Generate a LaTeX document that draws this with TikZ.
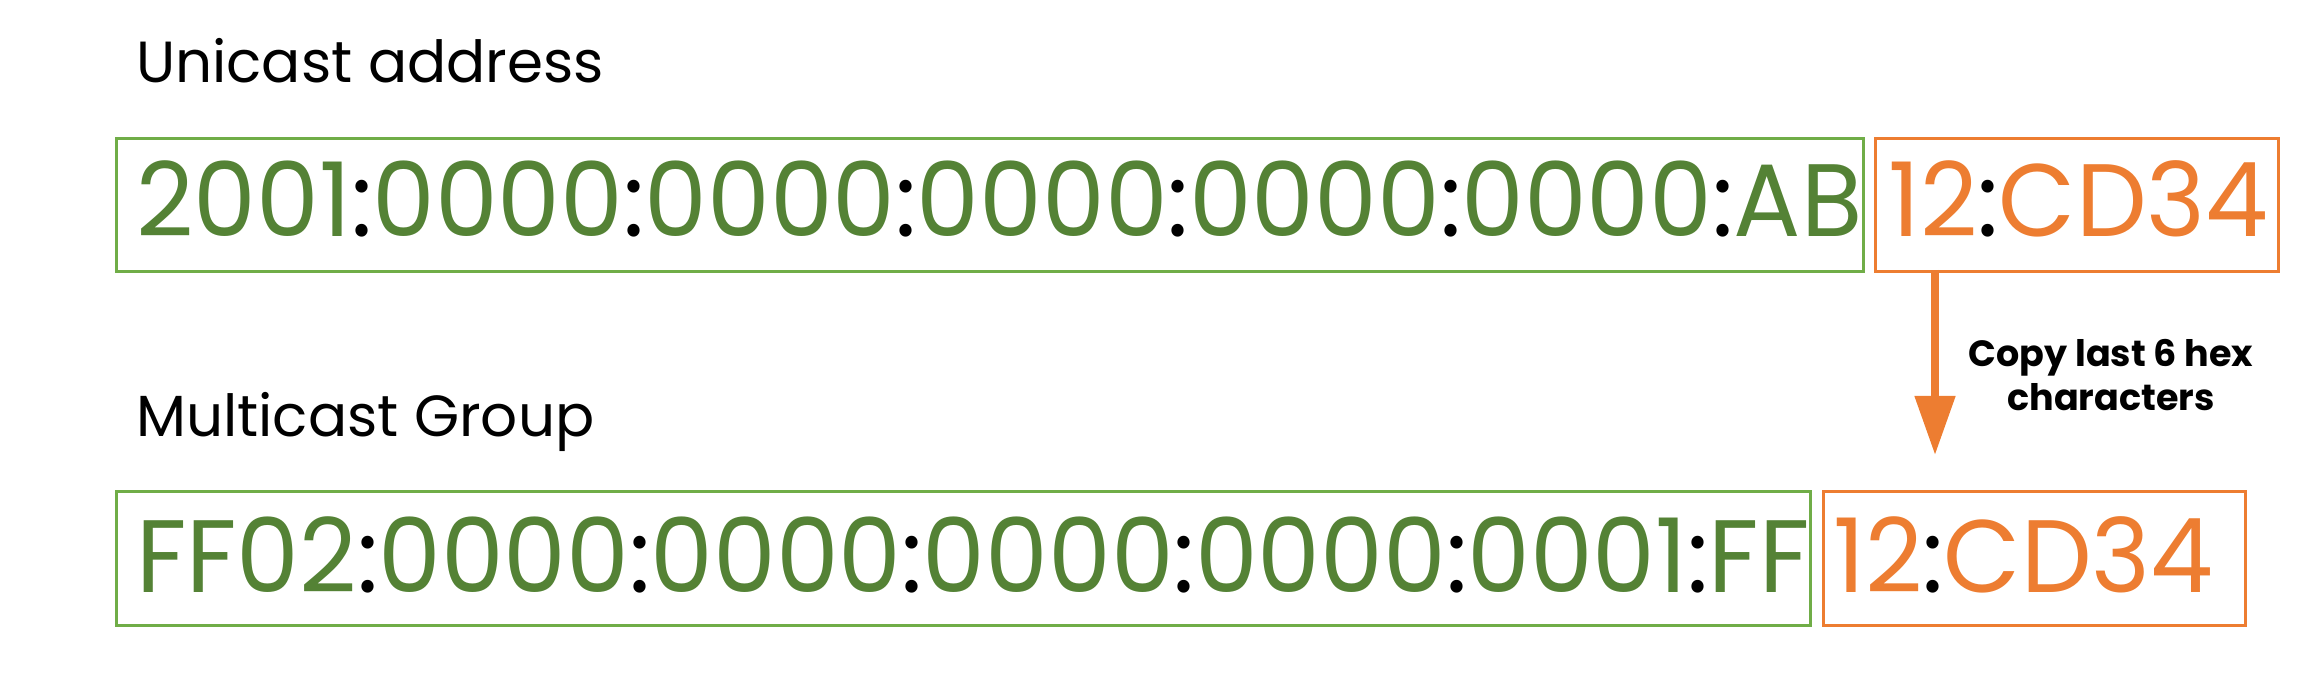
\documentclass[tikz,border=0pt]{standalone}
\usepackage{fontspec}
\setmainfont{Poppins}
\newfontfamily\condfont[FakeStretch=0.97]{Poppins}
\usetikzlibrary{arrows.meta}
\definecolor{gtext}{HTML}{548235}
\definecolor{gbox}{HTML}{70AD47}
\definecolor{orng}{HTML}{ED7D31}
\newcommand\cc{\textcolor{black}{:}}
\tikzset{
  gframe/.style={draw=gbox, line width=3pt, anchor=north west, inner sep=0pt},
  oframe/.style={draw=orng, line width=3pt, anchor=north west, inner sep=0pt},
  bigtxt/.style={anchor=base west, inner sep=0pt, font=\condfont\fontsize{103}{110}\selectfont},
  title/.style={anchor=base west, inner sep=0pt, font=\fontsize{58}{64}\selectfont},
  note/.style={align=center, inner sep=0pt, font=\fontsize{36.5}{44}\selectfont\bfseries},
  copyarrow/.style={draw=orng, line width=8pt, -{Triangle[length=59pt,width=39pt]}}
}
\begin{document}
\begin{tikzpicture}[x=1pt,y=1pt]
\useasboundingbox (0,0) rectangle (2315,678);
% titles
\node[title] (t1) at (136,{678-83}) {Unicast address};
\node[title] (t2) at (136,{678-437}) {Multicast Group};
% frames
\node[gframe, minimum width=1747pt, minimum height=133pt] (g1) at (115,{678-137}) {};
\node[oframe, minimum width=403pt, minimum height=133pt] (o1) at (1874,{678-137}) {};
\node[gframe, minimum width=1694pt, minimum height=134pt] (g2) at (115,{678-490}) {};
\node[oframe, minimum width=422pt, minimum height=134pt] (o2) at (1822,{678-490}) {};
% address texts
\node[bigtxt, text=gtext] (a1) at (136,{678-237}) {2001\cc 0000\cc 0000\cc 0000\cc 0000\cc 0000\cc AB};
\node[bigtxt, text=orng] (b1) at (1888,{678-237}) {12\cc CD34};
\node[bigtxt, text=gtext] (a2) at (136,{678-592}) {FF02\cc 0000\cc 0000\cc 0000\cc 0000\cc 0001\cc FF};
\node[bigtxt, text=orng] (b2) at (1833,{678-592}) {12\cc CD34};
% arrow
\coordinate (arrtop) at (1935,{678-270});
\coordinate (arrtip) at (1935,{678-455});
\draw[copyarrow] (arrtop) -- (arrtip);
\node[note, anchor=base] (lbl) at (2111,{678-411}) {Copy last 6 hex\\characters};
\end{tikzpicture}
\end{document}
